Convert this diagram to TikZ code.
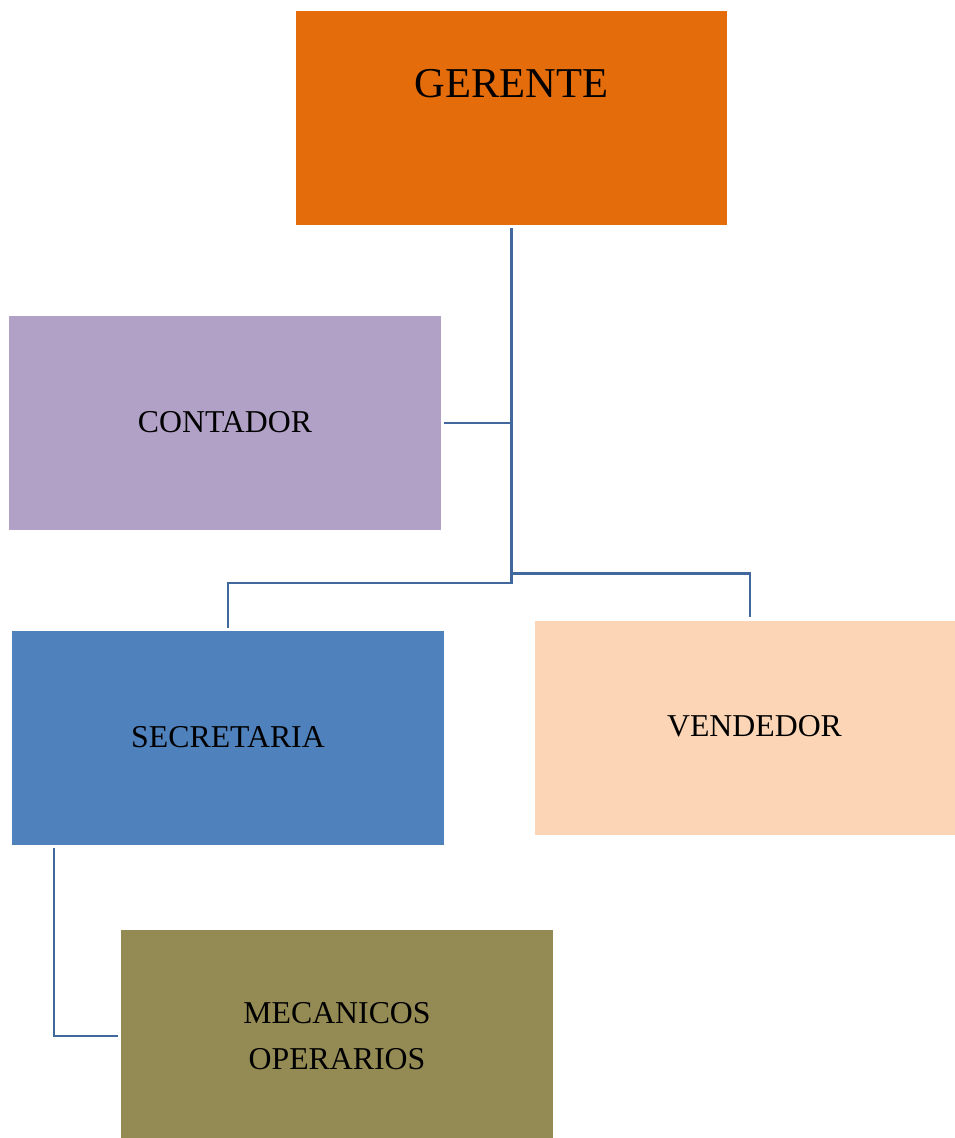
\documentclass[tikz,border=0pt]{standalone}
\usepackage{fontspec}
\setmainfont{Liberation Serif}
\definecolor{cger}{HTML}{E46C0A}
\definecolor{ccon}{HTML}{B2A1C7}
\definecolor{csec}{HTML}{4F81BD}
\definecolor{cven}{HTML}{FBD5B5}
\definecolor{cmec}{HTML}{948A54}
\definecolor{cline}{HTML}{41689D}
\tikzset{
  box/.style={rectangle, inner sep=0pt, minimum width=432pt, minimum height=214pt, align=center,
    font=\fontsize{31.8}{46}\selectfont},
  lbl/.style={inner sep=0pt, align=center, font=\fontsize{31.8}{46}\selectfont},
  conn/.style={draw=cline, line width=2.3pt}
}
\begin{document}
\begin{tikzpicture}[x=1pt,y=-1pt]
\path[fill=white, use as bounding box] (0,0) rectangle (955,1138);
\node[box, fill=cger, minimum width=431pt] (ger) at (511.5,118) {};
\node[inner sep=0pt, font=\fontsize{42.5}{46}\selectfont] (gert) at (511.5,84) {GERENTE};
\node[box, fill=ccon] (con) at (225,423) {};
\node[lbl] (cont) at (225,422) {CONTADOR};
\node[box, fill=csec] (sec) at (228,738) {};
\node[lbl] (sect) at (228,737) {SECRETARIA};
\node[box, fill=cven, minimum width=420pt] (ven) at (745,728) {};
\node[lbl] (vent) at (754.5,726) {VENDEDOR};
\node[box, fill=cmec, minimum height=208pt] (mec) at (337,1034) {};
\node[lbl] (mect) at (337,1036) {MECANICOS\\OPERARIOS};
\coordinate (j1) at (511.5,583);
\coordinate (j2) at (511.5,573.5);
\draw[conn] ([yshift=-3pt]ger.south) -- (j1) -| ([yshift=3pt]sec.north);
\draw[conn] (j2) -| ([xshift=5pt,yshift=4pt]ven.north);
\draw[conn] ([xshift=3pt]con.east) -- (con.east -| ger.south);
\draw[conn] ([xshift=42pt,yshift=-3pt]sec.south west) |- ([xshift=-3pt,yshift=-2pt]mec.west);
\end{tikzpicture}
\end{document}
